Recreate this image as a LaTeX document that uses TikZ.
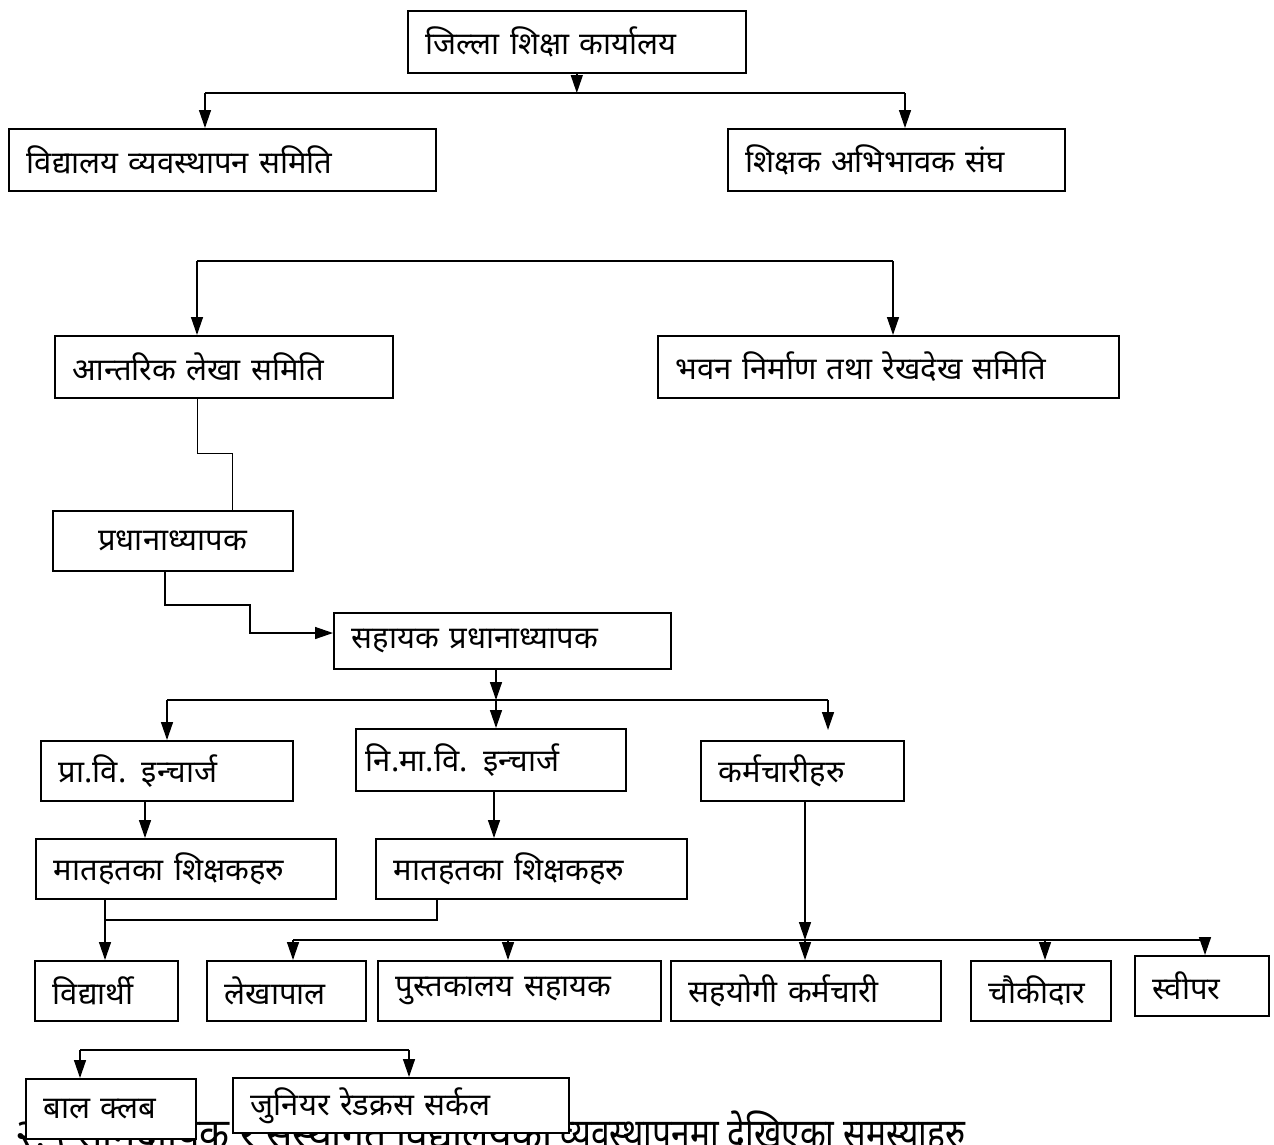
\documentclass[tikz,border=0pt]{standalone}
\usepackage{fontspec}
\newfontfamily\deva[Script=Devanagari]{Noto Sans}
\usetikzlibrary{arrows.meta}

\tikzset{
  orgbox/.style={draw, fill=white, line width=1.6pt, anchor=north west, inner xsep=18pt,
    inner ysep=0pt, align=left, font=\deva\fontsize{31}{36}\selectfont},
  headline/.style={anchor=base west, inner sep=0pt, font=\deva\bfseries\fontsize{42}{48}\selectfont},
  link/.style={line width=1.4pt},
  arr/.style={link, -{Triangle[length=18pt,width=12pt]}}
}

\begin{document}
\begin{tikzpicture}[x=1pt,y=-1pt]
            \useasboundingbox (0,0) rectangle (1274,1144);

            % heading behind the bottom boxes
            \node[headline] (hd1) at (15,1148) {\resizebox{537pt}{\height}{२.५ सामुदायिक र संस्थागत विद्यालयको}};
            \node[headline] (hd2) at (560,1148) {\resizebox{405pt}{\height}{व्यवस्थापनमा देखिएका समस्याहरु}};

            \node[orgbox, text width=302pt, minimum height=62pt] (dso) at (407,10) {जिल्ला शिक्षा कार्यालय};
            \node[orgbox, text width=391pt, minimum height=62pt] (vms) at (8,128) {विद्यालय व्यवस्थापन समिति};
            \node[orgbox, text width=301pt, minimum height=62pt] (sas) at (727,128) {शिक्षक अभिभावक संघ};
            \node[orgbox, text width=302pt, minimum height=62pt] (ils) at (54,335) {आन्तरिक लेखा समिति};
            \node[orgbox, text width=425pt, minimum height=62pt] (bns) at (657,335) {भवन निर्माण तथा रेखदेख समिति};
            \node[orgbox, text width=204pt, minimum height=60pt, align=center] (hm) at (52,510) {प्रधानाध्यापक};
            \node[orgbox, text width=301pt, minimum height=56pt] (ahm) at (333,612) {सहायक प्रधानाध्यापक};
            \node[orgbox, text width=216pt, minimum height=60pt] (pvi) at (40,740) {प्रा.वि. इन्चार्ज};
            \node[orgbox, text width=250pt, minimum height=62pt, inner xsep=10pt] (nmvi) at (355,728) {नि.मा.वि. इन्चार्ज};
            \node[orgbox, text width=167pt, minimum height=60pt] (kr) at (700,740) {कर्मचारीहरु};
            \node[orgbox, text width=264pt, minimum height=60pt] (mt1) at (35,838) {मातहतका शिक्षकहरु};
            \node[orgbox, text width=275pt, minimum height=60pt] (mt2) at (375,838) {मातहतका शिक्षकहरु};
            \node[orgbox, text width=107pt, minimum height=60pt] (vd) at (34,960) {विद्यार्थी};
            \node[orgbox, text width=123pt, minimum height=60pt] (lp) at (206,960) {लेखापाल};
            \node[orgbox, text width=247pt, minimum height=60pt] (ps) at (377,960) {पुस्तकालय सहायक};
            \node[orgbox, text width=234pt, minimum height=60pt] (sk) at (670,960) {सहयोगी कर्मचारी};
            \node[orgbox, text width=104pt, minimum height=60pt] (cd) at (970,960) {चौकीदार};
            \node[orgbox, text width=98pt, minimum height=60pt] (sw) at (1134,955) {स्वीपर};
            \node[orgbox, text width=134pt, minimum height=60pt] (bc) at (25,1078) {बाल क्लब};
            \node[orgbox, text width=300pt, minimum height=55pt] (jrc) at (232,1077) {जुनियर रेडक्रस सर्कल};

            % junction points
            \coordinate (b1l) at (205,93);  \coordinate (b1r) at (905,93);
            \coordinate (b2l) at (197,261); \coordinate (b2r) at (893,261);
            \coordinate (b3l) at (167,700); \coordinate (b3r) at (828,700);
            \coordinate (b4l) at (105,920); \coordinate (b4r) at (437,920);
            \coordinate (b5l) at (293,940); \coordinate (b5r) at (1205,940);
            \coordinate (b6l) at (80,1050); \coordinate (b6r) at (409,1050);

            \draw[arr] (dso.south) -- (dso.south |- b1l);
            \draw[link] (b1l) -- (b1r);
            \draw[arr] (b1l) -- (b1l |- vms.north); \draw[arr] (b1r) -- (b1r |- sas.north);

            \draw[link] (b2l) -- (b2r);
            \draw[arr] (b2l) -- (b2l |- ils.north); \draw[arr] (b2r) -- (b2r |- bns.north);

            \draw[line width=1pt] (b2l |- ils.south) -- (197,453) -- (232,453) -- (232,510 |- hm.north);
            \draw[arr] (165,570 |- hm.south) -- (165,605) -- (250,605) -- (250,633) -- (ahm.west |- 0,633);

            \draw[arr] (496,668 |- ahm.south) -- (496,700);
            \draw[link] (b3l) -- (b3r);
            \draw[arr] (b3l) -- (b3l |- pvi.north);
            \draw[arr] (496,700) -- (496,700 |- nmvi.north);
            \draw[arr] (b3r) -- (828,730);

            \draw[arr] (145,800 |- pvi.south) -- (145,838 |- mt1.north);
            \draw[arr] (494,790 |- nmvi.south) -- (494,838 |- mt2.north);

            \draw[arr] (b4l |- mt1.south) -- (b4l |- vd.north);
            \draw[link] (b4r |- mt2.south) -- (b4r) -- (b4l);

            \draw[arr] (805,800 |- kr.south) -- (805,940);
            \draw[link] (b5l) -- (b5r);
            \draw[arr] (b5l) -- (b5l |- lp.north);
            \draw[arr] (508,940) -- (508,940 |- ps.north);
            \draw[arr] (805,940) -- (805,940 |- sk.north);
            \draw[arr] (1045,940) -- (1045,940 |- cd.north);
            \draw[arr] (b5r) -- (b5r |- sw.north);

            \draw[link] (b6l) -- (b6r);
            \draw[arr] (b6l) -- (b6l |- bc.north); \draw[arr] (b6r) -- (b6r |- jrc.north);
\end{tikzpicture}
\end{document}
